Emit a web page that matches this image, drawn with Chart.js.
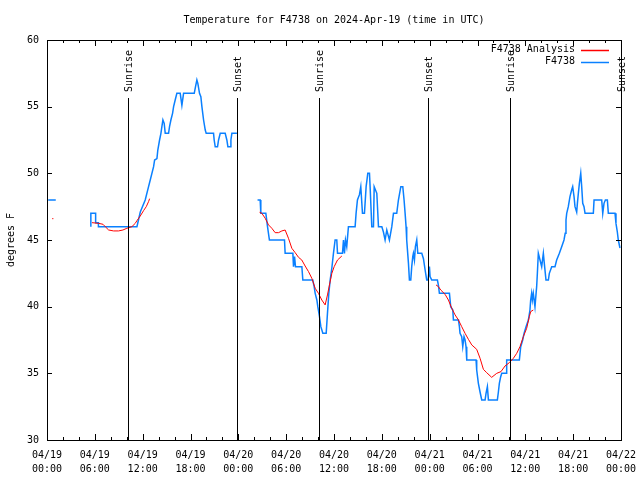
<!DOCTYPE html>
<html>
<head>
<meta charset="utf-8">
<script src="https://cdn.jsdelivr.net/npm/chart.js@4.4.1/dist/chart.umd.min.js"></script>
<style>
  html, body { margin: 0; padding: 0; background: #fff; }
  #chart { display: block; }
</style>
</head>
<body>
<canvas id="chart" width="640" height="480"></canvas>
<script>
// hours since 04/19 00:00 UTC, null temp = gap in the record
const obsHours = [
  0.15, 1.1, 3,
  5.5, 5.5, 6.1, 6.1, 6.45, 6.45, 11.28, 11.7, 12.32, 12.74, 12.95, 13.16, 13.37, 13.5, 13.79, 13.9,
  14.12, 14.29, 14.41, 14.54, 14.7, 14.83, 15.25, 15.37, 15.54, 15.75, 15.88, 16.08, 16.29, 16.71, 16.92,
  17.13, 18.47, 18.63, 18.8, 18.92, 19.13, 19.3, 19.43, 19.64, 19.85, 19.97, 20.89, 20.97, 21.1, 21.39,
  21.52, 21.73, 22.35, 22.56, 22.69, 22.98, 23.07, 23.19, 23.82, 25,
  26.41, 26.74, 26.82, 27.45, 27.66, 27.9, 29.79, 29.87, 30.84, 30.92, 31.05, 31.17, 31.97, 32.09, 33.34,
  33.51, 33.64, 33.85, 33.97, 34.18, 34.35, 34.6, 35.02, 35.18, 35.35, 35.52, 35.73, 35.93, 36.14, 36.35,
  36.44, 37.06, 37.19, 37.31, 37.44, 37.6, 37.81, 38.65, 38.77, 38.94, 39.19, 39.36, 39.57, 39.82, 40.03,
  40.24, 40.45, 40.53, 40.74, 40.95, 41.04, 41.37, 41.58, 42.0, 42.2, 42.41, 42.62, 42.95, 43.25, 43.46,
  43.87, 44.08, 44.38, 44.63, 44.79, 44.92, 45.04, 45.12, 45.34, 45.46, 45.63, 45.75, 45.88, 45.96, 46.09,
  46.21, 46.38, 46.51, 47.01, 47.22, 47.43, 47.63, 47.8, 47.97, 48.05, 48.26, 48.97, 49.1, 49.22, 50.48,
  50.64, 50.9, 50.98, 51.61, 51.73, 51.81, 52.02, 52.15, 52.31, 52.44, 52.56, 52.65, 53.82, 53.9, 54.11,
  54.32, 54.53, 54.95, 55.07, 55.24, 55.37, 56.49, 56.62, 56.74, 56.91, 57.04, 57.58, 57.66, 59.25, 59.42,
  59.67, 59.84, 60.09, 60.38, 60.58, 60.67, 60.79, 60.88, 61.0, 61.21, 61.42, 61.51, 61.63, 61.84, 62.05,
  62.26, 62.38, 62.59, 62.89, 63.01, 63.31, 63.72, 63.93, 64.27, 64.56, 64.85, 65.0, 65.1, 65.19, 65.39,
  65.6, 65.81, 65.94, 66.11, 66.23, 66.44, 66.53, 66.65, 66.78, 66.95, 67.07, 67.2, 67.36, 67.49, 68.53,
  68.62, 69.58, 69.71, 69.87, 70.04, 70.29, 70.41, 71.25, 71.37, 71.54, 71.66, 71.87
];
const obsTemps = [
  48, 48, null,
  46, 47, 47, 46.3, 46.3, 46, 46, 47.1, 48, 49, 49.5, 50, 50.5, 51, 51.1, 51.75,
  52.5, 53, 53.5, 54, 53.75, 53, 53, 53.5, 54, 54.5, 55, 55.5, 56, 56, 55.1,
  56, 56, 56.5, 57, 56.75, 56, 55.75, 55, 54, 53.25, 53, 53, 52.5, 52, 52,
  52.5, 53, 53, 52.5, 52, 52, 52.5, 53, 53, null,
  48, 48, 47, 47, 46, 45, 45, 44, 44, 43, 43.75, 43, 43, 42, 42,
  41.5, 41, 40.5, 40, 39.25, 38.5, 38, 38, 39.5, 41, 42, 42.9, 44, 45, 45,
  44, 44, 45, 44, 45, 44.5, 46, 46, 47, 48, 48.4, 49, 47, 47, 49,
  50, 50, 49, 46, 46, 49, 48.5, 46, 46, 45.6, 45, 45.75, 45, 46, 47,
  47, 48, 49, 49, 48, 47, 46, 45, 43.25, 42, 42, 43, 43.75, 44, 43.5,
  44.5, 45, 44, 44, 43.6, 42.75, 42, 42, 43, 42.25, 42, 42, 41.6, 41, 41,
  40, 39.75, 39, 39, 38.5, 38, 37.75, 37, 37.75, 37.5, 37, 36, 36, 35.25, 34.25,
  33.6, 33, 33, 33.5, 34, 33, 33, 33.6, 34.25, 34.75, 35, 35, 36, 36, 37,
  37.5, 38, 38.5, 39, 39.75, 40.5, 41, 40.5, 41, 40, 41.5, 42.5, 44, 43.5, 43,
  44, 43.25, 42, 42, 42.5, 43, 43, 43.5, 44, 44.5, 45, 45.5, 46.5, 47, 47.5,
  48.25, 48.75, 49, 48.25, 47.5, 47.1, 47.75, 48.5, 49.25, 50, 49, 47.75, 47.5, 47, 47,
  48, 48, 47, 47.75, 48, 48, 47, 47, 46.25, 45.6, 45, 44.4
];

const anaHours = [
  0.65, 0.8, 3,
  5.64, 6.47, 7.02, 7.31, 7.73, 8.35, 8.98, 9.52, 10.02, 10.65, 11.07, 11.28, 11.7, 12.11, 12.45, 12.74, 12.87, 20,
  26.66, 26.95, 27.37, 27.79, 28.2, 28.62, 29.04, 29.46, 29.87, 30.29, 30.71, 31.13, 31.55, 31.96, 32.38,
  32.8, 33.22, 33.64, 34.05, 34.47, 34.89, 35.18, 35.43, 35.73, 36.02, 36.44, 36.98, 42,
  48.8, 49.1, 49.39, 49.93, 50.35, 50.77, 51.19, 51.61, 52.02, 52.44, 52.86, 53.28, 53.9, 54.32, 54.74,
  55.15, 55.78, 56.41, 56.95, 57.45, 57.99, 58.5, 58.92, 59.33, 59.75, 60.17, 60.5, 60.67, 61.0
];
const anaTemps = [
  46.6, 46.6, null,
  46.3, 46.25, 46.18, 46.0, 45.75, 45.68, 45.68, 45.75, 45.88, 46.0, 46.25, 46.45, 46.8, 47.2, 47.5, 47.88, 48.1, null,
  47.08, 47.0, 46.63, 46.13, 45.88, 45.55, 45.55, 45.68, 45.75, 45.13, 44.38, 44.05, 43.7, 43.5, 43.05,
  42.63, 42.13, 41.38, 41.0, 40.5, 40.13, 40.88, 41.63, 42.5, 43.0, 43.5, 43.8, null,
  41.63, 41.5, 41.25, 40.93, 40.5, 39.88, 39.38, 39.0, 38.5, 38.0, 37.55, 37.13, 36.8, 36.13, 35.3,
  35.05, 34.7, 35.0, 35.13, 35.55, 35.8, 36.13, 36.5, 37.0, 37.75, 38.38, 39.25, 39.63, 39.75
];

const xTickDates = ['04/19', '04/19', '04/19', '04/19', '04/20', '04/20', '04/20', '04/20', '04/21', '04/21', '04/21', '04/21', '04/22'];
const xTickTimes = ['00:00', '06:00', '12:00', '18:00', '00:00', '06:00', '12:00', '18:00', '00:00', '06:00', '12:00', '18:00', '00:00'];
const yTicks = [30, 35, 40, 45, 50, 55, 60];

const sunHours = [10.1, 23.8, 34.1, 47.85, 58.1, 71.95];
const sunLabels = ['Sunrise', 'Sunset', 'Sunrise', 'Sunset', 'Sunrise', 'Sunset'];

const chartTitle = "Temperature for F4738 on 2024-Apr-19 (time in UTC)";

const FONT = '"DejaVu Sans Mono", monospace';

const toPoints = (hrs, vals) => hrs.map((h, i) => ({ x: h, y: vals[i] }));

// border box, inward ticks, sunrise/sunset markers, title and legend like gnuplot
const gnuplotBits = {
    id: "gnuplotBits",
    afterDatasetsDraw(chart) {
        const { ctx, chartArea: a, scales } = chart;
        const xs = scales.x, ys = scales.y;
        ctx.save();
        ctx.strokeStyle = "#000";
        ctx.lineWidth = 1;
        ctx.font = "10px " + FONT;
        ctx.fillStyle = "#000";

        // title centred on the plot box, not the canvas
        ctx.textAlign = "center";
        ctx.textBaseline = "middle";
        ctx.fillText(chartTitle, (a.left + a.right) / 2, 20.5);

        // sunrise / sunset lines
        sunHours.forEach((h, i) => {
            const px = Math.round(xs.getPixelForValue(h)) + 0.5;
            ctx.beginPath();
            ctx.moveTo(px, a.top + 58);
            ctx.lineTo(px, a.bottom);
            ctx.stroke();
            ctx.save();
            ctx.translate(px + 1, a.top + 52);
            ctx.rotate(-Math.PI / 2);
            ctx.textAlign = "left";
            ctx.textBaseline = "middle";
            ctx.fillText(sunLabels[i], 0, 0);
            ctx.restore();
        });

        // frame
        ctx.strokeRect(Math.round(a.left) + 0.5, Math.round(a.top) + 0.5,
            Math.round(a.right - a.left), Math.round(a.bottom - a.top));

        // x ticks every 2h, longer at labelled ones
        ctx.beginPath();
        for (let h = 0; h <= 72; h += 2) {
            const px = Math.round(xs.getPixelForValue(h)) + 0.5;
            const len = h % 6 === 0 ? 6 : 3;
            ctx.moveTo(px, a.bottom); ctx.lineTo(px, a.bottom - len);
            ctx.moveTo(px, a.top); ctx.lineTo(px, a.top + len);
        }
        yTicks.forEach((v) => {
            const py = Math.round(ys.getPixelForValue(v)) + 0.5;
            ctx.moveTo(a.left, py); ctx.lineTo(a.left + 5, py);
            ctx.moveTo(a.right, py); ctx.lineTo(a.right - 5, py);
        });
        ctx.stroke();

        // legend
        ctx.textAlign = "right";
        ctx.textBaseline = "middle";
        chart.data.datasets.forEach((ds, i) => {
            const y = a.top + 9.5 + i * 12;
            ctx.fillStyle = "#000";
            ctx.fillText(ds.label, 575, y);
            ctx.strokeStyle = ds.borderColor;
            ctx.lineWidth = 1.5;
            ctx.beginPath();
            ctx.moveTo(581, Math.round(y) + 0.5);
            ctx.lineTo(609, Math.round(y) + 0.5);
            ctx.stroke();
        });
        ctx.restore();
    },
};

const ctx = document.getElementById("chart").getContext("2d");
new Chart(ctx, {
    type: "line",
    data: {
        datasets: [
            {
                label: "F4738 Analysis",
                data: toPoints(anaHours, anaTemps),
                borderColor: "#ff0000",
                borderWidth: 1,
                pointRadius: 0,
                spanGaps: false,
                tension: 0,
            },
            {
                label: "F4738",
                data: toPoints(obsHours, obsTemps),
                borderColor: "#0a80ff",
                borderWidth: 1.5,
                pointRadius: 0,
                spanGaps: false,
                tension: 0,
            },
        ],
    },
    options: {
        responsive: false,
        devicePixelRatio: 1,
        animation: false,
        layout: { padding: { left: 0, right: 19, top: 40, bottom: 0 } },
        plugins: {
            legend: { display: false },
            tooltip: { enabled: false },
            title: { display: false },
        },
        scales: {
            x: {
                type: "linear",
                min: 0,
                max: 72,
                grid: { display: false, drawTicks: false },
                border: { display: false },
                ticks: {
                    stepSize: 6,
                    autoSkip: false,
                    maxRotation: 0,
                    padding: 8,
                    color: "#000",
                    font: { family: FONT, size: 10, lineHeight: 1.45 },
                    callback: (v) => [xTickDates[v / 6], xTickTimes[v / 6]],
                },
                afterFit: (s) => { s.height = 40; s.paddingLeft = 0; s.paddingRight = 0; },
            },
            y: {
                min: 30,
                max: 60,
                grid: { display: false, drawTicks: false },
                border: { display: false },
                ticks: {
                    stepSize: 5,
                    padding: 8,
                    color: "#000",
                    font: { family: FONT, size: 10 },
                },
                title: {
                    display: true,
                    text: "degrees F",
                    color: "#000",
                    font: { family: FONT, size: 10 },
                    padding: { top: 5, bottom: 0 },
                },
                afterFit: (s) => { s.width = 47; },
            },
        },
    },
    plugins: [gnuplotBits],
});
</script>
</body>
</html>
